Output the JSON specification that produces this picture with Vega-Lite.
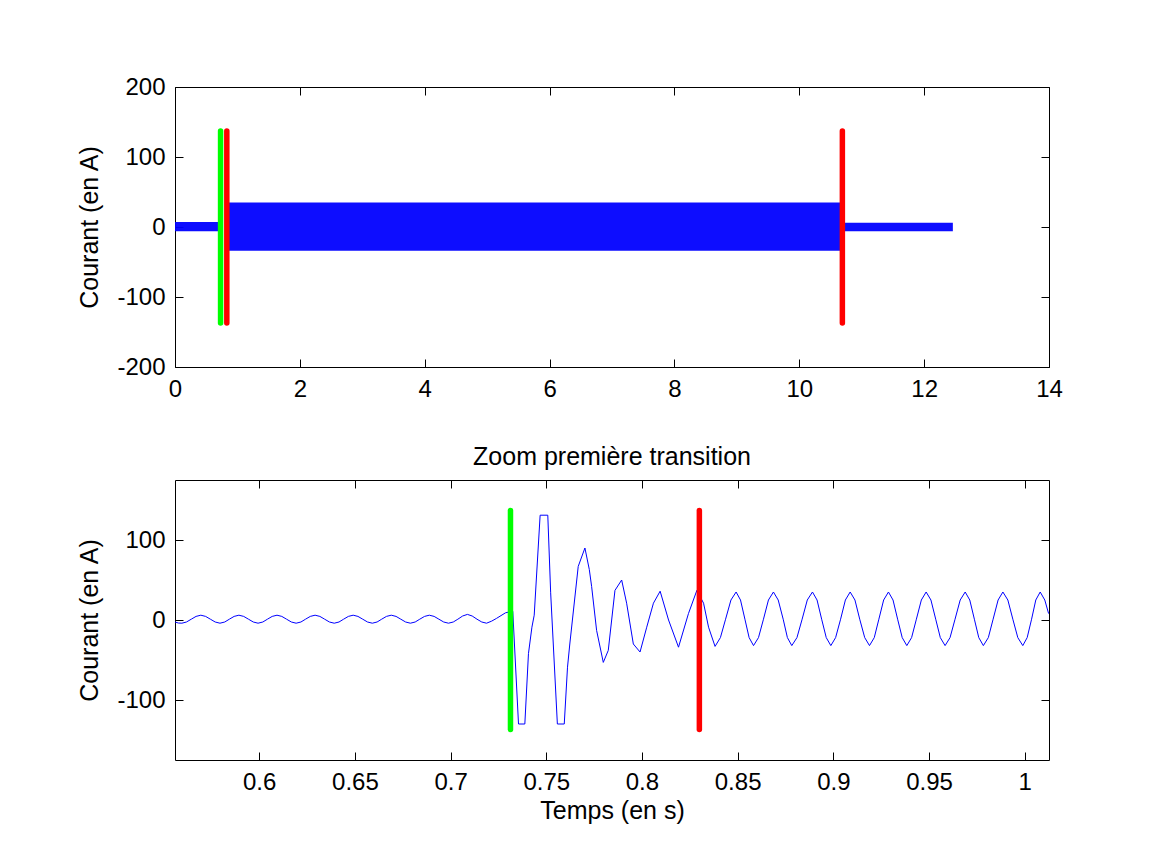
{
  "$schema": "https://vega.github.io/schema/vega-lite/v6.json",
  "autosize": {"type": "none"},
  "padding": {"left": 175, "top": 87, "right": 991, "bottom": 777},
  "background": "white",
  "spacing": 113,
  "bounds": "flush",
  "config": {
    "font": "Liberation Sans",
    "view": {"stroke": null},
    "axis": {
      "labelFont": "Liberation Sans", "labelFontSize": 24, "labelColor": "black",
      "titleFont": "Liberation Sans", "titleFontSize": 25, "titleFontWeight": "normal", "titleColor": "black",
      "domainColor": "black", "domainWidth": 1, "tickColor": "black", "tickWidth": 1, "tickSize": -8,
      "grid": false, "labelFlush": false, "labelOverlap": false, "labelExpr": "'' + datum.value"
    },
    "axisX": {"labelPadding": 18, "titlePadding": 4},
    "axisY": {"labelPadding": 18, "titlePadding": 14},
    "title": {"font": "Liberation Sans", "fontSize": 25, "fontWeight": "normal", "color": "black"}
  },
  "vconcat": [
    {
      "width": 874,
      "height": 280,
      "layer": [
        {
          "data": {"values": [
            {"t0": 0, "t1": 0.72, "lo": -6, "hi": 7},
            {"t0": 0.83, "t1": 10.68, "lo": -34, "hi": 35},
            {"t0": 10.68, "t1": 12.46, "lo": -6, "hi": 6}
          ]},
          "mark": {"type": "rect", "color": "#0000ff", "opacity": 0.95},
          "encoding": {
            "x": {"field": "t0", "type": "quantitative", "scale": {"domain": [0, 14], "nice": false, "zero": false},
                  "axis": {"orient": "bottom", "values": [0, 2, 4, 6, 8, 10, 12, 14], "title": null}},
            "x2": {"field": "t1"},
            "y": {"field": "lo", "type": "quantitative", "scale": {"domain": [-200, 200], "nice": false, "zero": false},
                  "axis": {"orient": "left", "values": [-200, -100, 0, 100, 200], "title": "Courant (en A)"}},
            "y2": {"field": "hi"}
          }
        },
        {
          "data": {"values": [
            {"t": 0.73, "lo": -137, "hi": 137, "c": "vert"},
            {"t": 0.83, "lo": -137, "hi": 137, "c": "rouge"},
            {"t": 10.69, "lo": -137, "hi": 137, "c": "rouge"}
          ]},
          "mark": {"type": "rule", "strokeWidth": 5.5, "strokeCap": "round"},
          "encoding": {
            "x": {"field": "t", "type": "quantitative",
                  "axis": {"orient": "top", "values": [0, 2, 4, 6, 8, 10, 12, 14], "labels": false, "title": null}},
            "y": {"field": "lo", "type": "quantitative",
                  "axis": {"orient": "right", "values": [-200, -100, 0, 100, 200], "labels": false, "title": null}},
            "y2": {"field": "hi"},
            "color": {"field": "c", "type": "nominal", "scale": {"domain": ["vert", "rouge"], "range": ["#00ff00", "#ff0000"]}, "legend": null}
          }
        }
      ]
    },
    {
      "width": 874,
      "height": 280,
      "title": {"text": "Zoom première transition", "offset": 10},
      "layer": [
        {
          "data": {"values": [
            {"t": 0.556, "v": -2.5}, {"t": 0.5578, "v": -3.8}, {"t": 0.5596, "v": -4}, {"t": 0.562, "v": -2.5}, {"t": 0.5645, "v": 1}, {"t": 0.567, "v": 4.5}, {"t": 0.5695, "v": 6},
            {"t": 0.572, "v": 4.5}, {"t": 0.5745, "v": 1}, {"t": 0.577, "v": -2.5}, {"t": 0.5795, "v": -4}, {"t": 0.582, "v": -2.5}, {"t": 0.5844, "v": 1}, {"t": 0.5869, "v": 4.5}, {"t": 0.5894, "v": 6},
            {"t": 0.5919, "v": 4.5}, {"t": 0.5944, "v": 1}, {"t": 0.5969, "v": -2.5}, {"t": 0.5994, "v": -4}, {"t": 0.6019, "v": -2.5}, {"t": 0.6043, "v": 1}, {"t": 0.6068, "v": 4.5}, {"t": 0.6093, "v": 6},
            {"t": 0.6118, "v": 4.5}, {"t": 0.6143, "v": 1}, {"t": 0.6168, "v": -2.5}, {"t": 0.6193, "v": -4}, {"t": 0.6218, "v": -2.5}, {"t": 0.6242, "v": 1}, {"t": 0.6267, "v": 4.5}, {"t": 0.6292, "v": 6},
            {"t": 0.6317, "v": 4.5}, {"t": 0.6342, "v": 1}, {"t": 0.6367, "v": -2.5}, {"t": 0.6392, "v": -4}, {"t": 0.6417, "v": -2.5}, {"t": 0.6441, "v": 1}, {"t": 0.6466, "v": 4.5}, {"t": 0.6491, "v": 6},
            {"t": 0.6516, "v": 4.5}, {"t": 0.6541, "v": 1}, {"t": 0.6566, "v": -2.5}, {"t": 0.6591, "v": -4}, {"t": 0.6616, "v": -2.5}, {"t": 0.664, "v": 1}, {"t": 0.6665, "v": 4.5}, {"t": 0.669, "v": 6},
            {"t": 0.6715, "v": 4.5}, {"t": 0.674, "v": 1}, {"t": 0.6765, "v": -2.5}, {"t": 0.679, "v": -4}, {"t": 0.6815, "v": -2.5}, {"t": 0.6839, "v": 1}, {"t": 0.6864, "v": 4.5}, {"t": 0.6889, "v": 6},
            {"t": 0.6914, "v": 4.5}, {"t": 0.6939, "v": 1}, {"t": 0.6964, "v": -2.5}, {"t": 0.6989, "v": -4}, {"t": 0.7014, "v": -2.5}, {"t": 0.7038, "v": 1}, {"t": 0.7063, "v": 5}, {"t": 0.7088, "v": 7},
            {"t": 0.7113, "v": 5}, {"t": 0.7138, "v": 1}, {"t": 0.7163, "v": -2.5}, {"t": 0.7188, "v": -4}, {"t": 0.7214, "v": -1.5}, {"t": 0.724, "v": 2}, {"t": 0.7287, "v": 9},
            {"t": 0.7305, "v": 10}, {"t": 0.7325, "v": 11},
            {"t": 0.7355, "v": -130}, {"t": 0.7388, "v": -130}, {"t": 0.7407, "v": -42}, {"t": 0.7425, "v": -9},
            {"t": 0.7437, "v": 6}, {"t": 0.7468, "v": 131}, {"t": 0.7508, "v": 131}, {"t": 0.7523, "v": 34},
            {"t": 0.7558, "v": -130}, {"t": 0.7594, "v": -130}, {"t": 0.7611, "v": -59}, {"t": 0.7623, "v": -30},
            {"t": 0.7667, "v": 67}, {"t": 0.7702, "v": 90}, {"t": 0.7725, "v": 63}, {"t": 0.7737, "v": 42},
            {"t": 0.7763, "v": -13}, {"t": 0.7798, "v": -53}, {"t": 0.7824, "v": -38}, {"t": 0.7859, "v": 37},
            {"t": 0.7894, "v": 50}, {"t": 0.792, "v": 21}, {"t": 0.7955, "v": -30}, {"t": 0.799, "v": -40},
            {"t": 0.8025, "v": -9}, {"t": 0.806, "v": 21}, {"t": 0.8095, "v": 36}, {"t": 0.8139, "v": 0},
            {"t": 0.8191, "v": -34}, {"t": 0.8243, "v": 8}, {"t": 0.8287, "v": 37}, {"t": 0.8322, "v": 21},
            {"t": 0.8348, "v": -9}, {"t": 0.8382, "v": -33},
            {"t": 0.841, "v": -22}, {"t": 0.8437, "v": 1}, {"t": 0.8465, "v": 25}, {"t": 0.8492, "v": 35},
            {"t": 0.8515, "v": 25}, {"t": 0.8538, "v": 1}, {"t": 0.856, "v": -22}, {"t": 0.8583, "v": -32},
            {"t": 0.8609, "v": -22}, {"t": 0.8635, "v": 1}, {"t": 0.8661, "v": 25}, {"t": 0.8687, "v": 35},
            {"t": 0.8712, "v": 25}, {"t": 0.8738, "v": 1}, {"t": 0.876, "v": -22}, {"t": 0.8783, "v": -32},
            {"t": 0.881, "v": -22}, {"t": 0.8837, "v": 1}, {"t": 0.8864, "v": 25}, {"t": 0.8891, "v": 35},
            {"t": 0.8915, "v": 25}, {"t": 0.8939, "v": 1}, {"t": 0.8963, "v": -22}, {"t": 0.8987, "v": -32},
            {"t": 0.9012, "v": -22}, {"t": 0.9038, "v": 1}, {"t": 0.9063, "v": 25}, {"t": 0.9088, "v": 35},
            {"t": 0.9113, "v": 25}, {"t": 0.9138, "v": 1}, {"t": 0.9164, "v": -22}, {"t": 0.9189, "v": -32},
            {"t": 0.9214, "v": -22}, {"t": 0.9238, "v": 1}, {"t": 0.9263, "v": 25}, {"t": 0.9288, "v": 35},
            {"t": 0.9312, "v": 25}, {"t": 0.9336, "v": 1}, {"t": 0.936, "v": -22}, {"t": 0.9384, "v": -32},
            {"t": 0.9409, "v": -22}, {"t": 0.9434, "v": 1}, {"t": 0.946, "v": 25}, {"t": 0.9485, "v": 35},
            {"t": 0.951, "v": 25}, {"t": 0.9535, "v": 1}, {"t": 0.9559, "v": -22}, {"t": 0.9584, "v": -32},
            {"t": 0.961, "v": -22}, {"t": 0.9636, "v": 1}, {"t": 0.9663, "v": 25}, {"t": 0.9689, "v": 35},
            {"t": 0.9713, "v": 25}, {"t": 0.9737, "v": 1}, {"t": 0.976, "v": -22}, {"t": 0.9784, "v": -32},
            {"t": 0.981, "v": -22}, {"t": 0.9835, "v": 1}, {"t": 0.9861, "v": 25}, {"t": 0.9886, "v": 35},
            {"t": 0.9912, "v": 25}, {"t": 0.9938, "v": 1}, {"t": 0.9964, "v": -22}, {"t": 0.999, "v": -32},
            {"t": 1.0013, "v": -22}, {"t": 1.0036, "v": 1}, {"t": 1.0058, "v": 25}, {"t": 1.0081, "v": 35},
            {"t": 1.0105, "v": 25}, {"t": 1.0125, "v": 8}
          ]},
          "mark": {"type": "line", "color": "#0000ff", "strokeWidth": 1, "clip": true},
          "encoding": {
            "x": {"field": "t", "type": "quantitative", "scale": {"domain": [0.556, 1.0127], "nice": false, "zero": false},
                  "axis": {"orient": "bottom", "values": [0.6, 0.65, 0.7, 0.75, 0.8, 0.85, 0.9, 0.95, 1], "title": "Temps (en s)"}},
            "y": {"field": "v", "type": "quantitative", "scale": {"domain": [-175, 175], "nice": false, "zero": false},
                  "axis": {"orient": "left", "values": [-100, 0, 100], "title": "Courant (en A)"}}
          }
        },
        {
          "data": {"values": [
            {"t": 0.7313, "lo": -137, "hi": 137, "c": "vert"},
            {"t": 0.83, "lo": -137, "hi": 137, "c": "rouge"}
          ]},
          "mark": {"type": "rule", "strokeWidth": 5.5, "strokeCap": "round"},
          "encoding": {
            "x": {"field": "t", "type": "quantitative",
                  "axis": {"orient": "top", "values": [0.6, 0.65, 0.7, 0.75, 0.8, 0.85, 0.9, 0.95, 1], "labels": false, "title": null}},
            "y": {"field": "lo", "type": "quantitative",
                  "axis": {"orient": "right", "values": [-100, 0, 100], "labels": false, "title": null}},
            "y2": {"field": "hi"},
            "color": {"field": "c", "type": "nominal", "scale": {"domain": ["vert", "rouge"], "range": ["#00ff00", "#ff0000"]}, "legend": null}
          }
        }
      ]
    }
  ]
}
